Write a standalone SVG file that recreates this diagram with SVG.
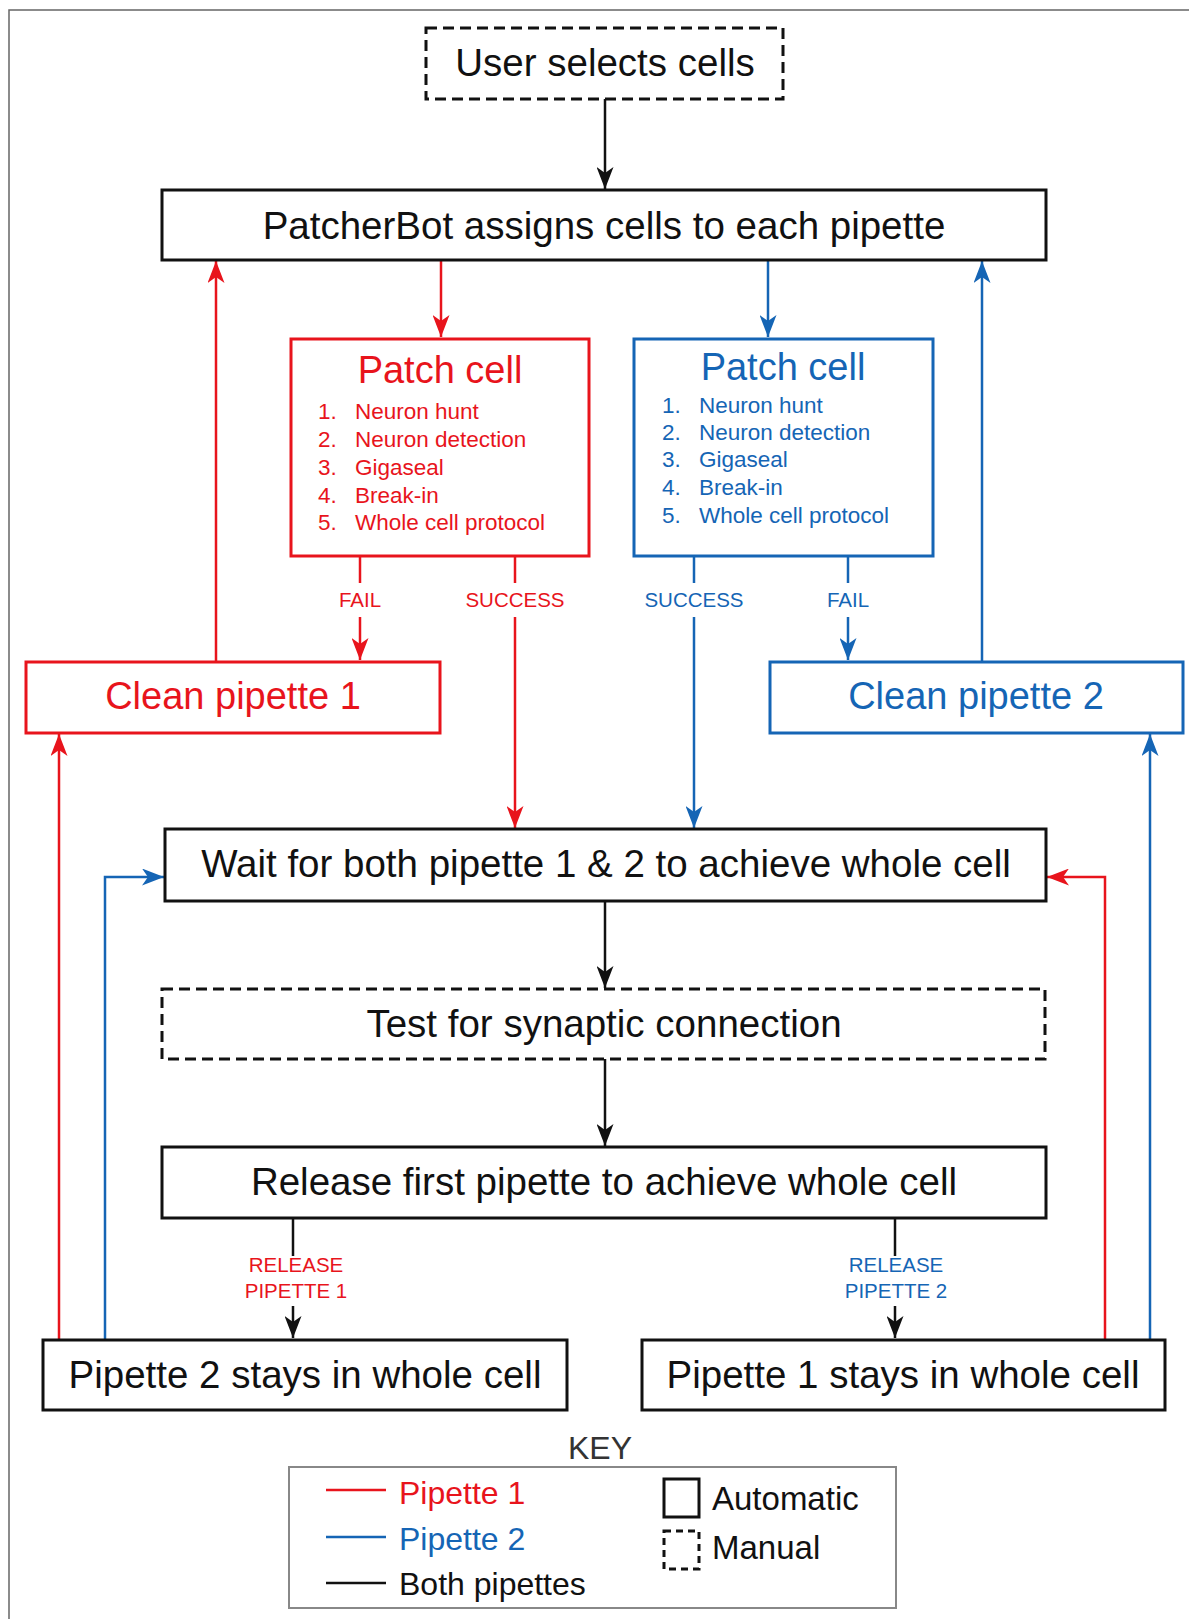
<svg xmlns="http://www.w3.org/2000/svg" width="1189" height="1619" viewBox="0 0 1189 1619">
<style>
text{font-family:"Liberation Sans",Arial,sans-serif;}
.box{fill:#fff;stroke:#111;stroke-width:3;}
.dash{fill:#fff;stroke:#111;stroke-width:3;stroke-dasharray:11 6;}
.rbox{fill:#fff;stroke:#e8141c;stroke-width:3;}
.bbox{fill:#fff;stroke:#1565b5;stroke-width:3;}
.big{font-size:38.5px;text-anchor:middle;fill:#111;}
.t{font-size:38px;text-anchor:middle;}
.li{font-size:22.5px;}
.lab{font-size:20.5px;text-anchor:middle;}
.r{fill:#e8141c;}
.b{fill:#1565b5;}
.k{fill:none;stroke:#111;stroke-width:2.5;}
.rl{fill:none;stroke:#e8141c;stroke-width:2.5;}
.bl{fill:none;stroke:#1565b5;stroke-width:2.5;}
</style>
<defs>
<marker id="ak" viewBox="0 0 22 17" refX="22" refY="8.5" markerWidth="22" markerHeight="17" markerUnits="userSpaceOnUse" orient="auto"><path d="M0,0 L22,8.5 L0,17 L6,8.5 z" fill="#111"/></marker>
<marker id="ar" viewBox="0 0 22 17" refX="22" refY="8.5" markerWidth="22" markerHeight="17" markerUnits="userSpaceOnUse" orient="auto"><path d="M0,0 L22,8.5 L0,17 L6,8.5 z" fill="#e8141c"/></marker>
<marker id="ab" viewBox="0 0 22 17" refX="22" refY="8.5" markerWidth="22" markerHeight="17" markerUnits="userSpaceOnUse" orient="auto"><path d="M0,0 L22,8.5 L0,17 L6,8.5 z" fill="#1565b5"/></marker>
</defs>
<rect x="0" y="0" width="1189" height="1619" fill="#fff"/>
<rect x="9" y="10" width="1250" height="1700" fill="none" stroke="#666" stroke-width="1.5"/>

<g id="connectors">
<path class="k" d="M605,99 L605,189" marker-end="url(#ak)"/>
<path class="k" d="M605,901 L605,988" marker-end="url(#ak)"/>
<path class="k" d="M605,1059 L605,1146" marker-end="url(#ak)"/>
<path class="k" d="M293,1218 L293,1256"/>
<path class="k" d="M293,1306 L293,1338" marker-end="url(#ak)"/>
<path class="k" d="M895,1218 L895,1256"/>
<path class="k" d="M895,1306 L895,1338" marker-end="url(#ak)"/>
<path class="rl" d="M441,261 L441,337" marker-end="url(#ar)"/>
<path class="rl" d="M360,556 L360,583"/>
<path class="rl" d="M360,617 L360,660" marker-end="url(#ar)"/>
<path class="rl" d="M515,556 L515,583"/>
<path class="rl" d="M515,617 L515,828" marker-end="url(#ar)"/>
<path class="rl" d="M216,661 L216,261" marker-end="url(#ar)"/>
<path class="rl" d="M59,1339 L59,734" marker-end="url(#ar)"/>
<path class="rl" d="M1105,1339 L1105,877 L1047,877" marker-end="url(#ar)"/>
<path class="bl" d="M768,261 L768,337" marker-end="url(#ab)"/>
<path class="bl" d="M694,556 L694,583"/>
<path class="bl" d="M694,617 L694,828" marker-end="url(#ab)"/>
<path class="bl" d="M848,556 L848,583"/>
<path class="bl" d="M848,617 L848,660" marker-end="url(#ab)"/>
<path class="bl" d="M982,661 L982,261" marker-end="url(#ab)"/>
<path class="bl" d="M1150,1339 L1150,734" marker-end="url(#ab)"/>
<path class="bl" d="M105,1339 L105,877 L164,877" marker-end="url(#ab)"/>
<text class="lab r" x="360" y="607">FAIL</text>
<text class="lab r" x="515" y="607">SUCCESS</text>
<text class="lab b" x="694" y="607">SUCCESS</text>
<text class="lab b" x="848" y="607">FAIL</text>
<text class="lab r" x="296" y="1272">RELEASE</text>
<text class="lab r" x="296" y="1298">PIPETTE 1</text>
<text class="lab b" x="896" y="1272">RELEASE</text>
<text class="lab b" x="896" y="1298">PIPETTE 2</text>
</g>

<g id="user-selects">
<rect class="dash" x="426" y="28" width="357" height="71"/>
<text class="big" x="605" y="76">User selects cells</text>
</g>
<g id="assign">
<rect class="box" x="162" y="190" width="884" height="70"/>
<text class="big" x="604" y="239">PatcherBot assigns cells to each pipette</text>
</g>
<g id="patch1">
<rect class="rbox" x="291" y="339" width="298" height="217"/>
<text class="t r" x="440" y="383">Patch cell</text>
<g class="li r">
<text x="318" y="419">1.</text><text x="355" y="419">Neuron hunt</text>
<text x="318" y="447">2.</text><text x="355" y="447">Neuron detection</text>
<text x="318" y="475">3.</text><text x="355" y="475">Gigaseal</text>
<text x="318" y="503">4.</text><text x="355" y="503">Break-in</text>
<text x="318" y="530">5.</text><text x="355" y="530">Whole cell protocol</text>
</g>
</g>
<g id="patch2">
<rect class="bbox" x="634" y="339" width="299" height="217"/>
<text class="t b" x="783" y="380">Patch cell</text>
<g class="li b">
<text x="662" y="413">1.</text><text x="699" y="413">Neuron hunt</text>
<text x="662" y="440">2.</text><text x="699" y="440">Neuron detection</text>
<text x="662" y="467">3.</text><text x="699" y="467">Gigaseal</text>
<text x="662" y="495">4.</text><text x="699" y="495">Break-in</text>
<text x="662" y="523">5.</text><text x="699" y="523">Whole cell protocol</text>
</g>
</g>
<g id="clean1">
<rect class="rbox" x="26" y="662" width="414" height="71"/>
<text class="t r" x="233" y="709">Clean pipette 1</text>
</g>
<g id="clean2">
<rect class="bbox" x="770" y="662" width="413" height="71"/>
<text class="t b" x="976" y="709">Clean pipette 2</text>
</g>
<g id="wait">
<rect class="box" x="165" y="829" width="881" height="72"/>
<text class="big" x="606" y="877">Wait for both pipette 1 &amp; 2 to achieve whole cell</text>
</g>
<g id="test">
<rect class="dash" x="162" y="989" width="883" height="70"/>
<text class="big" x="604" y="1037">Test for synaptic connection</text>
</g>
<g id="release">
<rect class="box" x="162" y="1147" width="884" height="71"/>
<text class="big" x="604" y="1195">Release first pipette to achieve whole cell</text>
</g>
<g id="stay2">
<rect class="box" x="43" y="1340" width="524" height="70"/>
<text class="big" x="305" y="1388">Pipette 2 stays in whole cell</text>
</g>
<g id="stay1">
<rect class="box" x="642" y="1340" width="523" height="70"/>
<text class="big" x="903" y="1388">Pipette 1 stays in whole cell</text>
</g>
<g id="key">
<text x="600" y="1459" font-size="32" text-anchor="middle" fill="#333">KEY</text>
<rect x="289" y="1467" width="607" height="141" fill="#fff" stroke="#888" stroke-width="2"/>
<line x1="326" y1="1490" x2="386" y2="1490" stroke="#e8141c" stroke-width="2.5"/>
<text x="399" y="1504" font-size="32" class="r">Pipette 1</text>
<line x1="326" y1="1537" x2="386" y2="1537" stroke="#1565b5" stroke-width="2.5"/>
<text x="399" y="1550" font-size="32" class="b">Pipette 2</text>
<line x1="326" y1="1583" x2="386" y2="1583" stroke="#111" stroke-width="2.5"/>
<text x="399" y="1595" font-size="32" fill="#111">Both pipettes</text>
<rect x="664" y="1479" width="35" height="38" fill="none" stroke="#111" stroke-width="3"/>
<text x="712" y="1510" font-size="33" fill="#111">Automatic</text>
<rect x="664" y="1531" width="35" height="38" fill="none" stroke="#111" stroke-width="3" stroke-dasharray="7 5"/>
<text x="712" y="1559" font-size="33" fill="#111">Manual</text>
</g>
</svg>
